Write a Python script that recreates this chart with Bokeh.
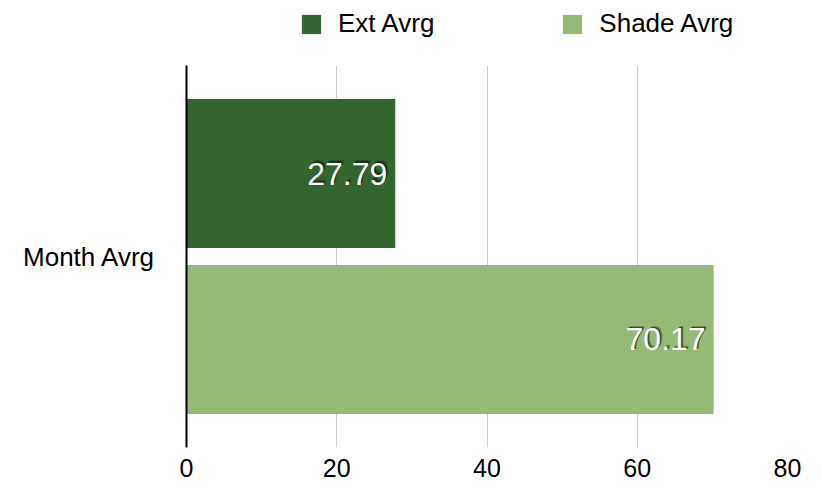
from bokeh.plotting import figure
from bokeh.layouts import column
from bokeh.models import ColumnDataSource, FactorRange, Range1d, FixedTicker, Legend, LegendItem
from bokeh.transform import dodge
from bokeh.core.properties import value
from bokeh.embed import file_html
from bokeh.resources import INLINE

# Data
categories = ["Month Avrg"]
ext_avrg = [27.79]
shade_avrg = [70.17]
series_names = ["Ext Avrg", "Shade Avrg"]
x_ticks = [0, 20, 40, 60, 80]

FONT = "Liberation Sans"
DARK = "#33652f"
LIGHT = "#96ba76"

src = ColumnDataSource(dict(
    cat=categories,
    ext=ext_avrg,
    shade=shade_avrg,
    ext_lbl=[f"{v:.2f}" for v in ext_avrg],
    shade_lbl=[f"{v:.2f}" for v in shade_avrg],
))

p = figure(
    width=822, height=422,
    y_range=FactorRange(*categories, range_padding=0),
    x_range=Range1d(0, 80),
    output_backend="svg", toolbar_location=None,
    min_border_left=186, min_border_right=35,
    min_border_top=0, min_border_bottom=40,
)
p.y_range.factor_padding = 0
p.outline_line_color = None

ext_r = p.hbar(y=dodge("cat", 0.217, range=p.y_range), left=0, right="ext",
               height=0.39, source=src, fill_color=DARK, line_color=None)
shade_r = p.hbar(y=dodge("cat", -0.217, range=p.y_range), left=0, right="shade",
                 height=0.39, source=src, fill_color=LIGHT, line_color=None)

# Value labels with a soft drop shadow
for col, lbl, off in (("ext", "ext_lbl", 0.217), ("shade", "shade_lbl", -0.217)):
    ycol = dodge("cat", off, range=p.y_range)
    for dx, dy, a in ((2.5, -2.5, 0.3), (1.5, -1.5, 0.6)):
        p.text(x=col, y=ycol, text=lbl, source=src, x_offset=-8 + dx, y_offset=dy,
               text_align="right", text_baseline="middle",
               text_font=value(FONT), text_font_size="32px",
               text_color="#111a0d", text_alpha=a)
    p.text(x=col, y=ycol, text=lbl, source=src, x_offset=-8,
           text_align="right", text_baseline="middle",
           text_font=value(FONT), text_font_size="32px", text_color="white")

# Axes
p.xaxis.ticker = FixedTicker(ticks=x_ticks)
p.xaxis.axis_line_color = None
p.xaxis.major_tick_line_color = None
p.xaxis.minor_tick_line_color = None
p.xaxis.major_tick_out = 0
p.xaxis.major_label_standoff = 11
p.xaxis.major_label_text_font = FONT
p.xaxis.major_label_text_font_size = "25px"
p.xaxis.major_label_text_color = "black"

p.yaxis.axis_line_color = "black"
p.yaxis.axis_line_width = 2
p.yaxis.major_tick_line_color = None
p.yaxis.major_tick_out = 0
p.yaxis.major_label_standoff = 31
p.yaxis.major_label_text_font = FONT
p.yaxis.major_label_text_font_size = "26px"
p.yaxis.major_label_text_color = "black"

p.xgrid.ticker = FixedTicker(ticks=x_ticks)
p.xgrid.grid_line_color = "#cccccc"
p.xgrid.grid_line_width = 1
p.ygrid.grid_line_color = None

# Legend strip above the chart (key renderers sit outside the visible range);
# the column aligns this strip's frame with the chart's frame.
lg = figure(width=822, height=65, x_range=Range1d(0, 1), y_range=Range1d(0, 1),
            x_axis_location=None, y_axis_location=None,
            output_backend="svg", toolbar_location=None,
            min_border_left=0, min_border_right=0, min_border_top=0, min_border_bottom=0)
lg.grid.grid_line_color = None
lg.outline_line_color = None
key_ext = lg.hbar(y=[-5], left=[0], right=[1], height=0.5, fill_color=DARK, line_color=None)
key_shade = lg.hbar(y=[-5], left=[0], right=[1], height=0.5, fill_color=LIGHT, line_color=None)

legend = Legend(
    items=[LegendItem(label=series_names[0], renderers=[key_ext]),
           LegendItem(label=series_names[1], renderers=[key_shade])],
    orientation="horizontal", location=(113, 26),
    glyph_width=24, glyph_height=24, label_standoff=15, spacing=126,
    padding=0, margin=0, border_line_color=None, background_fill_alpha=0,
    label_text_font=FONT, label_text_font_size="26px", label_text_color="black",
)
lg.add_layout(legend, "center")

layout = column(lg, p, spacing=0)
open("out.html", "w").write(file_html(layout, INLINE))
